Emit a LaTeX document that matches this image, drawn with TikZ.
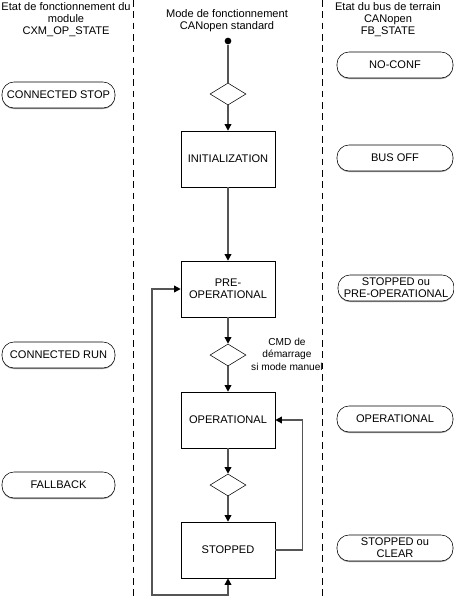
\documentclass[tikz,border=0pt]{standalone}
\usepackage{fontspec}
\setmainfont{Liberation Sans}
\usetikzlibrary{positioning}
\usetikzlibrary{shapes}
\usetikzlibrary{shadows}
\usetikzlibrary{arrows.meta}
\def\xgauche{133}
\def\xdroite{322}
\def\haut{597}
\definecolor{gray1}{RGB}{85,85,85}
\definecolor{gray2}{RGB}{150,150,150}

\tikzset{
	etat/.style={draw=black,rectangle,minimum width=70.5pt,minimum height=42pt,align=center,inner sep=1pt},
	choix/.style={draw=black,diamond,minimum width=27pt,minimum height=16.5pt,inner sep=0pt},
	statut/.style={draw=black,rectangle,rounded corners=9pt,minimum height=19.5pt,align=center,inner sep=1pt,fill=white,
		drop shadow={shadow xshift=0pt,shadow yshift=-0.8pt,fill=gray2,opacity=1}},
	pointe/.tip={Triangle[length=5pt,width=5pt,color=black]},
	fleche/.style={draw=gray1,line width=1pt,-pointe},
	separation/.style={draw=black,line width=0.6pt,dash pattern=on 5pt off 3.5pt}
}

\begin{document}
\begin{tikzpicture}[x=0.75pt,y=-0.75pt,font=\fontsize{8.3}{9}\selectfont]

	\useasboundingbox (0,0) rectangle (454,\haut);

	%%% Separations
	\draw[separation] (\xgauche,0) -- (\xgauche,\haut);
	\draw[separation] (\xdroite,0) -- (\xdroite,\haut);

	%%% Titles
	\node[align=center] (titreCXM) at (66,20) {Etat de fonctionnement du\\module\\CXM\_OP\_STATE};
	\node[align=center] (titreCAN) at (227,21) {Mode de fonctionnement\\CANopen standard};
	\node[align=center] (titreFB) at (388,20) {Etat du bus de terrain\\CANopen\\FB\_STATE};

	%%% CANopen states
	\node[circle,fill=black,inner sep=0pt,minimum size=5pt] (depart) at (228,41) {};
	\node[choix] (choix1) at (228,94) {};
	\node[etat] (init) at (228,159) {INITIALIZATION};
	\node[etat] (preop) at (228,289) {PRE-\\OPERATIONAL};
	\node[choix] (choix2) at (228,355) {};
	\node[etat] (oper) at (228,420) {OPERATIONAL};
	\node[choix] (choix3) at (228,485) {};
	\node[etat] (stop) at (228,550) {STOPPED};
	\node[align=center,font=\fontsize{7.6}{9.3}\selectfont] (cmd) at (287,354) {CMD de\\démarrage\\si mode manuel};

	%%% Transitions
	\draw[draw=gray1,line width=1pt] (depart) -- (choix1);
	\draw[fleche] (choix1) -- (init);
	\draw[fleche] (init) -- (preop);
	\draw[fleche] (preop) -- (choix2);
	\draw[fleche] (choix2) -- (oper);
	\draw[fleche] (oper) -- (choix3);
	\draw[fleche] (choix3) -- (stop);
	\draw[fleche] (stop.east) -- ++(27,0) |- (oper.east);
	\coordinate (retour) at (152,595);
	\draw[fleche,pointe-pointe] (preop.west) -| (retour) -| (stop.south);

	%%% CXM_OP_STATE
	\node[statut,minimum width=84.75pt] (cxmstop) at (58.5,95) {CONNECTED STOP};
	\node[statut,minimum width=84.75pt] (cxmrun) at (58.5,355) {CONNECTED RUN};
	\node[statut,minimum width=84.75pt] (cxmfall) at (58.5,485) {FALLBACK};

	%%% FB_STATE
	\node[statut,minimum width=87pt] (fbnoconf) at (395,65) {NO-CONF};
	\node[statut,minimum width=87pt] (fbbusoff) at (395,158) {BUS OFF};
	\node[statut,minimum width=87pt] (fbpreop) at (396,288) {STOPPED ou\\PRE-OPERATIONAL};
	\node[statut,minimum width=87pt] (fboper) at (395,419) {OPERATIONAL};
	\node[statut,minimum width=87pt] (fbstop) at (395,548) {STOPPED ou\\CLEAR};

\end{tikzpicture}
\end{document}
